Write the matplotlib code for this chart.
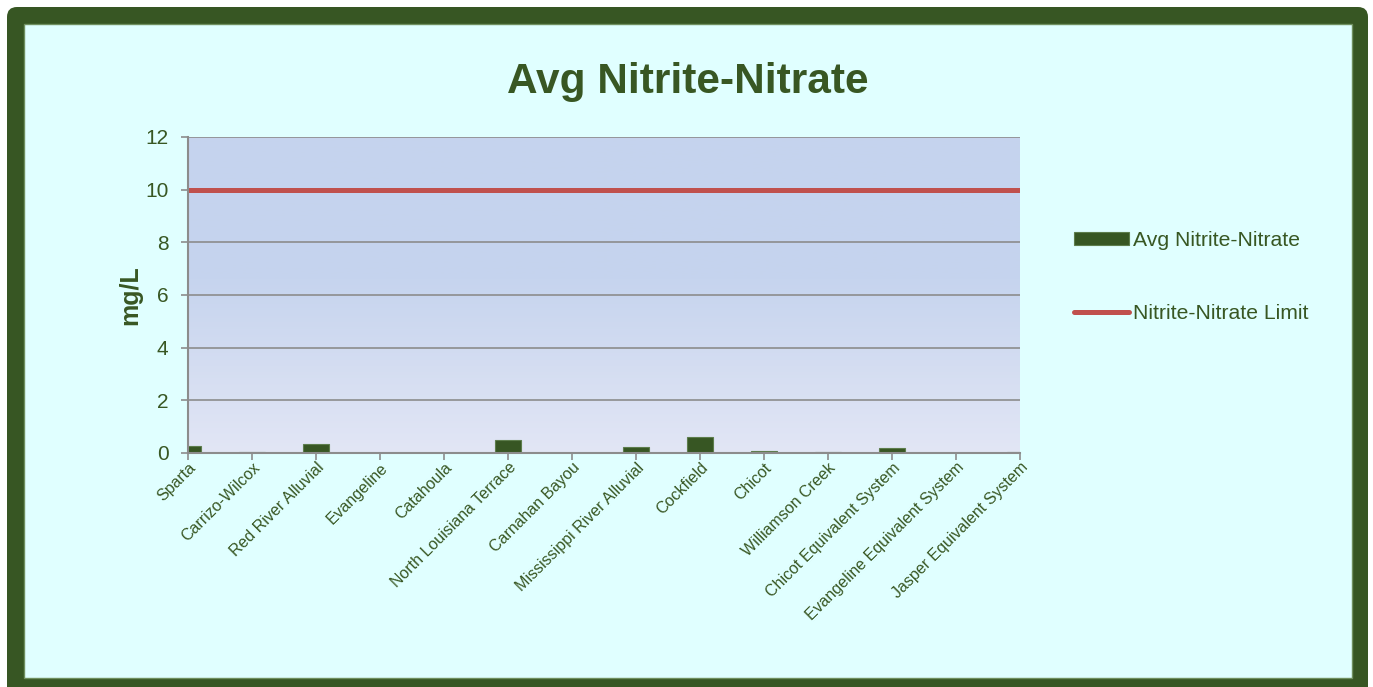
import numpy as np
import matplotlib
matplotlib.use("Agg")
import matplotlib.pyplot as plt
import matplotlib.transforms as mtransforms
from matplotlib.patches import FancyBboxPatch, Rectangle
from matplotlib.colors import LinearSegmentedColormap

# ---------------- DATA ----------------
aquifers = [
    "Sparta", "Carrizo-Wilcox", "Red River Alluvial", "Evangeline",
    "Catahoula", "North Louisiana Terrace", "Carnahan Bayou",
    "Mississippi River Alluvial", "Cockfield", "Chicot", "Williamson Creek",
    "Chicot Equivalent System", "Evangeline Equivalent System",
    "Jasper Equivalent System",
]
avg_nitrate = [0.26, 0.03, 0.34, 0.0, 0.0, 0.48, 0.0,
               0.22, 0.61, 0.09, 0.02, 0.19, 0.0, 0.02]
limit = [10] * len(aquifers)
y_ticks = [0, 2, 4, 6, 8, 10, 12]

# ---------------- STYLE ----------------
GREEN = "#375623"
TEXT = "#385723"
RED = "#C0504D"
GRID = "#8C8C8C"
BG = "#E0FFFF"
plt.rcParams["font.family"] = ["Liberation Sans", "DejaVu Sans"]

W, H = 1373, 687
fig = plt.figure(figsize=(W / 100, H / 100), dpi=100)
fig.patch.set_facecolor("white")

# frame, drawn in pixel units on a full-figure axes
bg = fig.add_axes([0, 0, 1, 1], zorder=-5)
bg.set_xlim(0, W)
bg.set_ylim(H, 0)
bg.axis("off")
bg.add_patch(FancyBboxPatch((7, 7), 1361, 700, boxstyle="round,pad=0,rounding_size=10",
                            facecolor=GREEN, edgecolor="none"))
bg.add_patch(Rectangle((24, 24), 1328, 654, facecolor=BG, edgecolor="#6f8f5f", lw=1))

# plot area
ax = fig.add_axes([188 / W, 1 - 453 / H, (1020 - 188) / W, (453 - 137) / H])
x = np.arange(len(aquifers))
n = len(aquifers) - 1

# gradient fill of plot area (blue on top, paler near the base)
cmap = LinearSegmentedColormap.from_list(
    "plotbg", [(0.0, "#C5D3EE"), (0.45, "#C6D4EE"), (1.0, "#E2E6F5")])
grad = np.linspace(0, 1, 256).reshape(-1, 1)
ax.imshow(grad, cmap=cmap, extent=[0, n, 0, 12], aspect="auto",
          origin="upper", zorder=0)
ax.set_xlim(0, n)
ax.set_ylim(0, 12)

ax.set_yticks(y_ticks)
ax.grid(axis="y", color=GRID, lw=1.2, zorder=1)
ax.set_axisbelow(False)

bars = ax.bar(x, avg_nitrate, width=0.4, color=GREEN, edgecolor="#5d7d4c", lw=0.8,
              zorder=3, label="Avg Nitrite-Nitrate")
line, = ax.plot(x, limit, color=RED, lw=3.6, solid_capstyle="round", zorder=4,
                label="Nitrite-Nitrate Limit")

for s in ["top", "right"]:
    ax.spines[s].set_visible(False)
for s in ["left", "bottom"]:
    ax.spines[s].set_color(GRID)
    ax.spines[s].set_linewidth(1.5)
    ax.spines[s].set_zorder(5)

ax.set_xticks(x)
ax.set_xticklabels(aquifers, rotation=45, ha="right", rotation_mode="anchor",
                   fontsize=11.5, color=TEXT)
shift = mtransforms.ScaledTranslation(-8 / 100, 4 / 100, fig.dpi_scale_trans)
for lbl in ax.get_xticklabels():
    lbl.set_transform(lbl.get_transform() + shift)
ax.tick_params(axis="x", length=5, width=1.2, color=GRID, pad=0)
ax.tick_params(axis="y", length=5, width=1.2, color=GRID, labelsize=15,
               labelcolor=TEXT, pad=9)
ax.set_ylabel("mg/L", fontsize=18, fontweight="bold", color=TEXT, labelpad=2)

fig.text(0.501, 1 - 82 / H, "Avg Nitrite-Nitrate", ha="center", va="center",
         fontsize=30.5, fontweight="bold", color=TEXT)

leg = fig.legend(handles=[bars, line], loc="upper left",
                 bbox_to_anchor=(1055 / W, 1 - 212 / H), frameon=False,
                 fontsize=15.2, labelcolor=TEXT, handlelength=2.6,
                 handleheight=0.5, handletextpad=0.2, labelspacing=2.55)

fig.savefig("out.png", dpi=100, facecolor=fig.get_facecolor())
